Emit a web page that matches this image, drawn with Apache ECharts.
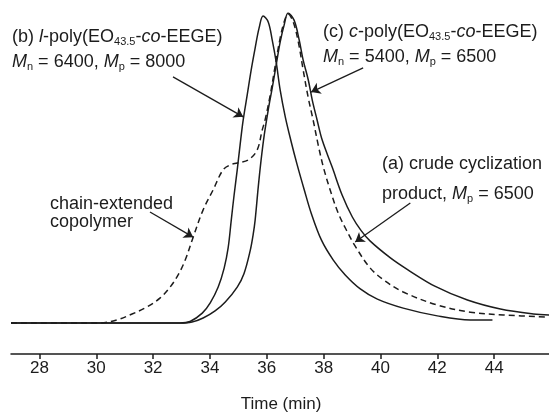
<!DOCTYPE html>
<html>
<head>
<meta charset="utf-8">
<script src="https://cdn.jsdelivr.net/npm/echarts@6/dist/echarts.min.js"></script>
<style>
  html, body { margin: 0; background: #fff; }
  #gpc { width: 549px; height: 412px; }
</style>
</head>
<body>
<div id="gpc"></div>
<script>
// GPC traces (time in min, signal in arbitrary units)
const tickValues = [28, 30, 32, 34, 36, 38, 40, 42, 44];

// (b) l-poly(EO43.5-co-EEGE)
const timeLinear = [27, 32.95, 33.30, 33.73, 34.01, 34.29, 34.50, 34.64, 34.75, 34.85, 34.96, 35.06, 35.17, 35.31, 35.45, 35.59, 35.73, 35.87, 36.05, 36.19, 36.33, 36.47, 36.65, 36.86, 37.07, 37.32, 37.56, 37.92, 38.34, 38.76, 39.29, 39.89, 40.80, 42.00, 43.16, 43.94];
const signalLinear = [0, 0, 0.5, 3.2, 6.5, 11.6, 17.7, 24.2, 33.2, 41.3, 49.4, 57.4, 65.5, 73.5, 81.6, 88.7, 95.2, 99.0, 97.1, 91.3, 84.2, 75.2, 66.5, 58.4, 51.0, 42.9, 35.5, 26.8, 20.3, 15.5, 11.0, 7.7, 4.8, 2.3, 1.0, 1.0];

// (c) c-poly(EO43.5-co-EEGE)
const timeCyclic = [27, 32.95, 33.37, 33.76, 34.18, 34.54, 34.96, 35.20, 35.42, 35.52, 35.59, 35.70, 35.80, 35.91, 36.05, 36.19, 36.33, 36.47, 36.61, 36.75, 36.96, 37.14, 37.28, 37.46, 37.60, 37.77, 37.95, 38.30, 38.65, 39.01, 39.32, 39.64, 40.35, 40.94, 41.93, 43.06, 44.22, 45.38, 45.94];
const signalCyclic = [0, 0, 0.3, 1.6, 3.9, 6.8, 11.6, 16.0, 23.5, 28.5, 33.2, 43.9, 52.6, 60.6, 68.7, 75.8, 83.2, 90.6, 96.1, 100, 97.7, 91.3, 84.8, 78.4, 71.9, 65.5, 59.0, 50.3, 41.3, 34.2, 29.8, 26.4, 21.0, 17.3, 11.8, 7.4, 4.5, 2.9, 2.6];

// (a) crude cyclization product (dashed)
const timeCrude = [27, 30.13, 30.73, 31.26, 31.79, 32.25, 32.60, 32.88, 33.13, 33.41, 33.76, 34.11, 34.46, 34.71, 34.96, 35.35, 35.66, 35.84, 35.94, 36.12, 36.30, 36.47, 36.61, 36.75, 36.93, 37.11, 37.28, 37.46, 37.63, 37.81, 37.99, 38.23, 38.51, 38.80, 39.11, 39.64, 40.17, 40.80, 42.00, 43.16, 44.32, 45.94];
const signalCrude = [0, 0, 1.0, 2.9, 5.2, 8.1, 11.6, 15.5, 20.3, 27.7, 36.5, 42.9, 49.4, 51.0, 51.6, 52.6, 55.8, 62.3, 65.5, 73.5, 83.2, 91.9, 97.1, 99.7, 97.1, 90.6, 81.6, 72.6, 65.5, 57.4, 50.3, 42.9, 35.5, 30.0, 24.8, 17.7, 13.5, 10.0, 5.8, 3.5, 2.6, 1.9];

// arrows: [fromTime, fromSignal, toTime, toSignal]
const arrows = [
  [32.70, 79.4, 35.17, 66.5],
  [39.39, 82.3, 37.56, 74.5],
  [41.05, 38.7, 39.11, 26.1],
  [31.89, 35.8, 33.41, 27.7]
];

function pairs(xs, ys) {
  return xs.map(function (x, i) { return [x, ys[i]]; });
}

window.onload = function () {
  const chart = echarts.init(document.getElementById('gpc'), null, { renderer: 'canvas' });
  const ink = '#1c1c1c';
  const font = 'Liberation Sans';

  const richText = {
    i: { fontStyle: 'italic', fontSize: 18, fontFamily: font, fill: ink },
    sub: { fontSize: 11, fontFamily: font, fill: ink, padding: [9, 0, 0, 0] }
  };
  function note(x, y, text) {
    return {
      type: 'text', left: x, top: y - 10,
      style: { text: text, fontSize: 18, fontFamily: font, fill: ink, rich: richText }
    };
  }

  const arrowLines = arrows.map(function (a) {
    return [{ coord: [a[0], a[1]] }, { coord: [a[2], a[3]] }];
  });

  const curve = { type: 'line', smooth: 0.35, symbol: 'none' };

  const option = {
    animation: false,
    grid: { left: 11, top: 13, width: 540, height: 341, containLabel: false, outerBoundsMode: 'none' },
    xAxis: {
      type: 'value', min: 27, max: 46,
      name: 'Time (min)', nameLocation: 'middle', nameGap: 42,
      nameTextStyle: { fontSize: 17, fontFamily: font, color: ink },
      axisLine: { show: true, onZero: false, lineStyle: { color: ink, width: 1.5 } },
      axisTick: { show: true, length: 5, customValues: tickValues, lineStyle: { color: ink, width: 1.5 } },
      axisLabel: { customValues: tickValues, fontSize: 17, fontFamily: font, color: ink, margin: 6 },
      splitLine: { show: false }
    },
    yAxis: { type: 'value', min: -10, max: 100, show: false },
    series: [
      Object.assign({}, curve, {
        data: pairs(timeLinear, signalLinear),
        lineStyle: { color: ink, width: 1.5 },
        markLine: {
          silent: true, symbol: ['none', 'arrow'], symbolSize: 9,
          label: { show: false },
          lineStyle: { color: ink, width: 1.3, type: 'solid' },
          data: arrowLines
        }
      }),
      Object.assign({}, curve, {
        data: pairs(timeCyclic, signalCyclic),
        lineStyle: { color: ink, width: 1.5 }
      }),
      Object.assign({}, curve, {
        data: pairs(timeCrude, signalCrude),
        lineStyle: { color: ink, width: 1.5, type: [6, 4] }
      })
    ],
    graphic: [
      note(12, 38, '(b) {i|l}-poly(EO{sub|43.5}-{i|co}-EEGE)'),
      note(12, 63, '{i|M}{sub|n} = 6400, {i|M}{sub|p} = 8000'),
      note(323, 33, '(c) {i|c}-poly(EO{sub|43.5}-{i|co}-EEGE)'),
      note(323, 58, '{i|M}{sub|n} = 5400, {i|M}{sub|p} = 6500'),
      note(382, 165, '(a) crude cyclization'),
      note(382, 195, 'product, {i|M}{sub|p} = 6500'),
      note(50, 205, 'chain-extended'),
      note(50, 223, 'copolymer')
    ]
  };
  chart.setOption(option);
};
</script>
</body>
</html>
